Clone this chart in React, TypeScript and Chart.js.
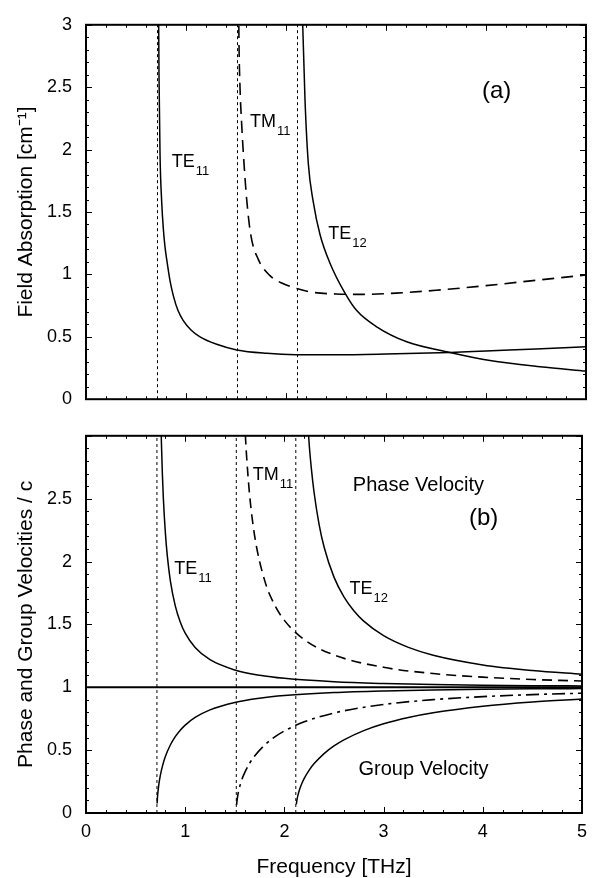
import React, { useEffect, useRef } from 'react';
import { Chart, registerables } from 'chart.js';

Chart.register(...registerables);

const FONT = '"Liberation Sans", Arial, Helvetica, sans-serif';

// ---------- shared ----------
const freqMin = 0;
const freqMax = 5;
const cutoffFreqs = [0.715, 1.515, 2.115]; // TE11, TM11, TE12 cut-off (THz)

// ---------- panel (a): field absorption [cm^-1] ----------
const te11AbsFreq = [0.722, 0.73, 0.74, 0.757, 0.773, 0.79, 0.807, 0.84, 0.873, 0.92, 0.973, 1.05, 1.14, 1.307, 1.507, 1.807, 2.1, 2.5, 3.0, 3.64, 4.0, 4.5, 5.0];
const te11Abs = [3.6, 2.6, 1.97, 1.58, 1.37, 1.22, 1.12, 0.95, 0.83, 0.71, 0.63, 0.555, 0.5, 0.44, 0.395, 0.368, 0.357, 0.356, 0.362, 0.375, 0.387, 0.403, 0.42];

const tm11AbsFreq = [1.522, 1.53, 1.54, 1.557, 1.58, 1.607, 1.647, 1.723, 1.84, 1.973, 2.107, 2.24, 2.5, 2.8, 3.1, 3.5, 4.0, 4.5, 5.0];
const tm11Abs = [3.6, 2.85, 2.5, 2.2, 1.89, 1.6, 1.32, 1.12, 0.99, 0.925, 0.887, 0.86, 0.843, 0.84, 0.85, 0.873, 0.91, 0.953, 0.995];

const te12AbsFreq = [2.155, 2.167, 2.19, 2.223, 2.273, 2.34, 2.44, 2.59, 2.707, 2.907, 3.207, 3.64, 4.04, 4.54, 5.0];
const te12Abs = [3.45, 3.0, 2.4, 1.89, 1.58, 1.32, 1.09, 0.85, 0.71, 0.58, 0.46, 0.375, 0.31, 0.26, 0.225];

// ---------- panel (b): phase and group velocities / c ----------
const te11PhaseFreq = [0.75, 0.76, 0.77, 0.78, 0.8, 0.82, 0.85, 0.9, 0.95, 1.0, 1.1, 1.25, 1.5, 1.75, 2.0, 2.5, 3.0, 3.5, 4.0, 4.5, 5.0];
const te11Phase = [3.31, 2.95, 2.694, 2.5, 2.23, 2.043, 1.849, 1.647, 1.519, 1.43, 1.316, 1.219, 1.1375, 1.0956, 1.0708, 1.0436, 1.0297, 1.0215, 1.0164, 1.0129, 1.0104];

const te11GroupFreq = [0.717, 0.72, 0.725, 0.735, 0.75, 0.77, 0.8, 0.85, 0.9, 0.95, 1.0, 1.1, 1.25, 1.5, 1.75, 2.0, 2.5, 3.0, 3.5, 4.0, 4.5, 5.0];
const te11Group = [0.075, 0.1176, 0.1655, 0.2317, 0.3019, 0.3712, 0.4486, 0.5408, 0.6073, 0.6584, 0.6991, 0.7599, 0.8203, 0.8791, 0.9127, 0.9339, 0.9582, 0.9712, 0.9789, 0.9839, 0.9873, 0.9897];

const tm11PhaseFreq = [1.58, 1.6, 1.61, 1.62, 1.65, 1.7, 1.8, 1.9, 2.0, 2.2, 2.5, 3.0, 3.5, 4.0, 4.5, 5.0];
const tm11Phase = [3.52, 3.11, 2.955, 2.824, 2.524, 2.204, 1.852, 1.657, 1.532, 1.379, 1.257, 1.1586, 1.1093, 1.0805, 1.062, 1.0493];

const tm11GroupFreq = [1.518, 1.52, 1.53, 1.545, 1.56, 1.58, 1.6, 1.65, 1.7, 1.8, 1.9, 2.0, 2.2, 2.5, 3.0, 3.5, 4.0, 4.5, 5.0];
const tm11Group = [0.065, 0.0811, 0.1396, 0.1961, 0.2385, 0.2839, 0.3216, 0.3962, 0.4537, 0.54, 0.6035, 0.6528, 0.7251, 0.7955, 0.8631, 0.9015, 0.9255, 0.9416, 0.953];

const te12PhaseFreq = [2.22, 2.25, 2.27, 2.3, 2.35, 2.4, 2.5, 2.6, 2.7, 2.8, 3.0, 3.25, 3.5, 4.0, 4.5, 5.0];
const te12Phase = [3.29, 2.931, 2.753, 2.545, 2.294, 2.116, 1.876, 1.719, 1.609, 1.526, 1.41, 1.317, 1.255, 1.178, 1.133, 1.1036];

const te12GroupFreq = [2.12, 2.13, 2.145, 2.16, 2.18, 2.2, 2.25, 2.3, 2.4, 2.5, 2.6, 2.8, 3.0, 3.25, 3.5, 4.0, 4.5, 5.0];
const te12Group = [0.0686, 0.1184, 0.1667, 0.2031, 0.2424, 0.2753, 0.3412, 0.3929, 0.4727, 0.5332, 0.5816, 0.6553, 0.7092, 0.7593, 0.7968, 0.8488, 0.8827, 0.9061];

const lightLineFreq = [0, 5];
const lightLine = [1, 1];

// ---------- text labels (data coordinates) ----------
const topModeLabels = [
  { text: 'TE', sub: '11', x: 0.857, y: 1.86 },
  { text: 'TM', sub: '11', x: 1.64, y: 2.18 },
  { text: 'TE', sub: '12', x: 2.423, y: 1.285 },
];
const topTags = [{ text: '(a)', x: 3.96, y: 2.41 }];

const bottomModeLabels = [
  { text: 'TE', sub: '11', x: 0.89, y: 1.9 },
  { text: 'TM', sub: '11', x: 1.68, y: 2.65 },
  { text: 'TE', sub: '12', x: 2.657, y: 1.74 },
];
const bottomTexts = [
  { text: 'Phase Velocity', x: 2.69, y: 2.56 },
  { text: 'Group Velocity', x: 2.747, y: 0.305 },
];
const bottomTags = [{ text: '(b)', x: 3.86, y: 2.29 }];

const absTicksMax = 3;
const velTicksMax = 3;

// ---------- helpers ----------
const pts = (xs: number[], ys: number[]) => xs.map((x, i) => ({ x, y: ys[i] }));

const isMultiple = (v: number, step: number) => Math.abs(v / step - Math.round(v / step)) < 1e-6;

const fmt = (v: any) => String(Math.round(Number(v) * 100) / 100);

const framePlugin = {
  id: 'frameTicks',
  afterDatasetsDraw(chart: any, _args: any, opts: any) {
    const { ctx, chartArea: a, scales } = chart;
    const x = scales.x;
    const y = scales.y;
    ctx.save();
    ctx.strokeStyle = '#000';
    ctx.lineWidth = 1;
    ctx.beginPath();
    for (let i = 0; ; i++) {
      const v = x.min + i * opts.xMinor;
      if (v > x.max + 1e-9) break;
      const px = Math.round(x.getPixelForValue(v)) + 0.5;
      const len = isMultiple(v, opts.xMajor) ? 6 : 3;
      ctx.moveTo(px, a.bottom);
      ctx.lineTo(px, a.bottom - len);
      ctx.moveTo(px, a.top);
      ctx.lineTo(px, a.top + len);
    }
    for (let i = 0; ; i++) {
      const v = y.min + i * opts.yMinor;
      if (v > y.max + 1e-9) break;
      const py = Math.round(y.getPixelForValue(v)) + 0.5;
      const len = isMultiple(v, opts.yMajor) ? 6 : 3;
      ctx.moveTo(a.left, py);
      ctx.lineTo(a.left + len, py);
      ctx.moveTo(a.right, py);
      ctx.lineTo(a.right - len, py);
    }
    ctx.stroke();
    ctx.lineWidth = 2;
    ctx.strokeRect(a.left, a.top, a.right - a.left, a.bottom - a.top);
    ctx.restore();
  },
};

const textPlugin = {
  id: 'chartTexts',
  afterDatasetsDraw(chart: any, _args: any, opts: any) {
    const { ctx, scales } = chart;
    const x = scales.x;
    const y = scales.y;
    ctx.save();
    ctx.fillStyle = '#000';
    ctx.textAlign = 'left';
    ctx.textBaseline = 'alphabetic';
    for (const group of opts.groups) {
      for (const l of group.items) {
        const px = x.getPixelForValue(l.x);
        const py = y.getPixelForValue(l.y);
        ctx.font = `${group.size}px ${FONT}`;
        ctx.fillText(l.text, px, py);
        if (l.sub) {
          const w = ctx.measureText(l.text).width;
          ctx.font = `${group.subSize}px ${FONT}`;
          ctx.fillText(l.sub, px + w + 1, py + group.subDy);
        }
      }
    }
    ctx.restore();
  },
};

const curve = (data: any[], dash: number[] = [], width = 1.5) => ({
  data,
  borderColor: '#000',
  borderWidth: width,
  borderDash: dash,
  pointRadius: 0,
  fill: false,
  cubicInterpolationMode: 'monotone',
});

const cutoffSets = (yMax: number) =>
  cutoffFreqs.map((c) => ({
    data: [
      { x: c, y: 0 },
      { x: c, y: yMax },
    ],
    borderColor: '#000',
    borderWidth: 1,
    borderDash: [3, 3],
    pointRadius: 0,
    fill: false,
  }));

function TopPanel() {
  const ref = useRef<HTMLCanvasElement>(null);
  useEffect(() => {
    const chart = new Chart(ref.current as HTMLCanvasElement, {
      type: 'line',
      data: {
        datasets: [
          ...cutoffSets(absTicksMax),
          curve(pts(te11AbsFreq, te11Abs), [], 1.5),
          curve(pts(tm11AbsFreq, tm11Abs), [12, 7], 1.6),
          curve(pts(te12AbsFreq, te12Abs), [], 1.5),
        ] as any,
      },
      options: {
        animation: false,
        responsive: false,
        maintainAspectRatio: false,
        events: [],
        layout: { padding: { top: 22, right: 9, bottom: 12, left: 0 } },
        plugins: {
          legend: { display: false },
          tooltip: { enabled: false },
          frameTicks: { xMinor: 0.2, xMajor: 1, yMinor: 0.1, yMajor: 0.5 },
          chartTexts: {
            groups: [
              { items: topModeLabels, size: 18, subSize: 13, subDy: 8 },
              { items: topTags, size: 24, subSize: 0, subDy: 0 },
            ],
          },
        } as any,
        scales: {
          x: { type: 'linear', min: freqMin, max: freqMax, display: false },
          y: {
            type: 'linear',
            min: 0,
            max: absTicksMax,
            afterFit: (s: any) => {
              s.width = 86;
            },
            grid: { display: false, drawTicks: false },
            border: { display: false },
            ticks: { stepSize: 0.5, color: '#000', padding: 14, font: { family: FONT, size: 18 }, callback: (v: any) => fmt(v) },
            title: {
              display: true,
              text: 'Field Absorption [cm\u207B\u00B9]',
              color: '#000',
              font: { family: FONT, size: 21 },
              padding: { top: 14, bottom: 0 },
            },
          },
        },
      },
      plugins: [framePlugin, textPlugin],
    } as any);
    return () => chart.destroy();
  }, []);
  return <canvas ref={ref} width={595} height={424} style={{ position: 'absolute', left: 0, top: 0 }} />;
}

function BottomPanel() {
  const ref = useRef<HTMLCanvasElement>(null);
  useEffect(() => {
    const chart = new Chart(ref.current as HTMLCanvasElement, {
      type: 'line',
      data: {
        datasets: [
          ...cutoffSets(velTicksMax),
          curve(pts(lightLineFreq, lightLine), [], 2),
          curve(pts(te11PhaseFreq, te11Phase), [], 1.5),
          curve(pts(te11GroupFreq, te11Group), [], 1.5),
          curve(pts(tm11PhaseFreq, tm11Phase), [10, 6], 1.6),
          curve(pts(tm11GroupFreq, tm11Group), [13, 5, 3, 5], 1.6),
          curve(pts(te12PhaseFreq, te12Phase), [], 1.5),
          curve(pts(te12GroupFreq, te12Group), [], 1.5),
        ] as any,
      },
      options: {
        animation: false,
        responsive: false,
        maintainAspectRatio: false,
        events: [],
        layout: { padding: { top: 12, right: 9, bottom: 0, left: 0 } },
        plugins: {
          legend: { display: false },
          tooltip: { enabled: false },
          frameTicks: { xMinor: 0.2, xMajor: 1, yMinor: 0.1, yMajor: 0.5 },
          chartTexts: {
            groups: [
              { items: bottomModeLabels, size: 18, subSize: 13, subDy: 8 },
              { items: bottomTexts, size: 20, subSize: 0, subDy: 0 },
              { items: bottomTags, size: 24, subSize: 0, subDy: 0 },
            ],
          },
        } as any,
        scales: {
          x: {
            type: 'linear',
            min: freqMin,
            max: freqMax,
            afterFit: (s: any) => {
              s.height = 65;
            },
            grid: { display: false, drawTicks: false },
            border: { display: false },
            ticks: { stepSize: 1, color: '#000', padding: 8, font: { family: FONT, size: 18 }, callback: (v: any) => fmt(v) },
            title: {
              display: true,
              text: 'Frequency [THz]',
              color: '#000',
              font: { family: FONT, size: 21, lineHeight: 1 },
              padding: { top: 0, bottom: 0 },
            },
          },
          y: {
            type: 'linear',
            min: 0,
            max: velTicksMax,
            afterFit: (s: any) => {
              s.width = 86;
            },
            grid: { display: false, drawTicks: false },
            border: { display: false },
            ticks: {
              stepSize: 0.5,
              color: '#000',
              padding: 14,
              font: { family: FONT, size: 18 },
              callback: (v: any) => (Number(v) >= velTicksMax ? '' : fmt(v)),
            },
            title: {
              display: true,
              text: 'Phase and Group Velocities / c',
              color: '#000',
              font: { family: FONT, size: 21 },
              padding: { top: 14, bottom: 0 },
            },
          },
        },
      },
      plugins: [framePlugin, textPlugin],
    } as any);
    return () => chart.destroy();
  }, []);
  return <canvas ref={ref} width={595} height={467} style={{ position: 'absolute', left: 0, top: 411 }} />;
}

export default function App() {
  return (
    <div style={{ position: 'absolute', left: 0, top: 0, width: 595, height: 878, background: '#fff', overflow: 'hidden' }}>
      <TopPanel />
      <BottomPanel />
    </div>
  );
}
